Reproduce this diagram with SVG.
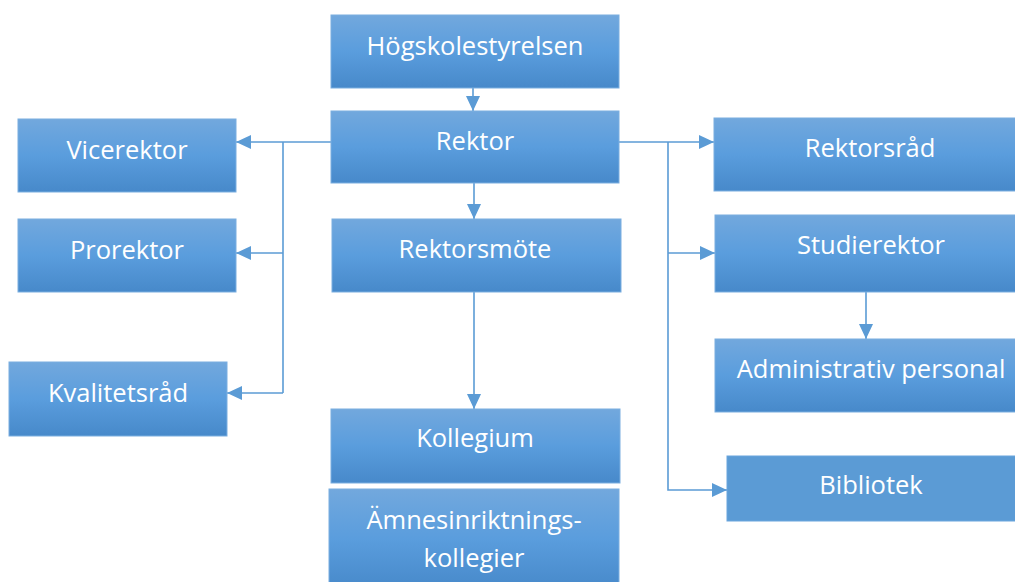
<svg xmlns="http://www.w3.org/2000/svg" width="1015" height="582" viewBox="0 0 1015 582">
<style>
.box{fill:url(#g);stroke:#7aaee0;stroke-width:1}
.flat{fill:#5b9bd5;stroke:#6aa5dd;stroke-width:1}
.t{font-family:"Open Sans","Liberation Sans",sans-serif;font-size:25.5px;fill:#ffffff;text-anchor:middle}
.c{fill:none;stroke:#5b9bd5;stroke-width:1.6}
</style>
<defs>
<linearGradient id="g" x1="0" y1="0" x2="0" y2="1">
<stop offset="0" stop-color="#72a8dd"/>
<stop offset="0.5" stop-color="#5a9ddd"/>
<stop offset="1" stop-color="#4789ca"/>
</linearGradient>
<marker id="a" viewBox="0 0 15 14" refX="15" refY="7" markerWidth="15" markerHeight="14" markerUnits="userSpaceOnUse" orient="auto">
<path d="M0,0 L15,7 L0,14 z" fill="#5b9bd5"/>
</marker>
</defs>
<g id="connectors">
<path class="c" d="M473,88 V111" marker-end="url(#a)"/>
<path class="c" d="M474,183 L474,219" marker-end="url(#a)"/>
<path class="c" d="M474,292 V409" marker-end="url(#a)"/>
<path class="c" d="M331,142 H236" marker-end="url(#a)"/>
<path class="c" d="M283,142 V393"/>
<path class="c" d="M283,253 H236" marker-end="url(#a)"/>
<path class="c" d="M283,393 H227" marker-end="url(#a)"/>
<path class="c" d="M619,142 H714" marker-end="url(#a)"/>
<path class="c" d="M668,142 V490 H727" marker-end="url(#a)"/>
<path class="c" d="M668,253 H715" marker-end="url(#a)"/>
<path class="c" d="M866,292 V339" marker-end="url(#a)"/>
</g>
<g id="hogskolestyrelsen"><rect class="box" x="331" y="15" width="288" height="73"/><text class="t" x="475" y="55">Högskolestyrelsen</text></g>
<g id="rektor"><rect class="box" x="331" y="111" width="288" height="72"/><text class="t" x="475" y="150">Rektor</text></g>
<g id="rektorsmote"><rect class="box" x="332" y="219" width="289" height="73"/><text class="t" x="475" y="258">Rektorsmöte</text></g>
<g id="kollegium"><rect class="box" x="331" y="409" width="289" height="74"/><text class="t" x="475" y="447">Kollegium</text></g>
<g id="amnesinriktningskollegier"><rect class="box" x="329" y="489" width="290" height="100"/><text class="t" x="474" y="529">Ämnesinriktnings-</text><text class="t" x="474" y="567">kollegier</text></g>
<g id="vicerektor"><rect class="box" x="18" y="119" width="218" height="73"/><text class="t" x="127" y="159">Vicerektor</text></g>
<g id="prorektor"><rect class="box" x="18" y="219" width="218" height="73"/><text class="t" x="127" y="259">Prorektor</text></g>
<g id="kvalitetsrad"><rect class="box" x="9" y="362" width="218" height="74"/><text class="t" x="118" y="402">Kvalitetsråd</text></g>
<g id="rektorsrad"><rect class="box" x="714" y="118" width="312" height="73"/><text class="t" x="870" y="157">Rektorsråd</text></g>
<g id="studierektor"><rect class="box" x="715" y="215" width="311" height="77"/><text class="t" x="871" y="254">Studierektor</text></g>
<g id="administrativ"><rect class="box" x="715" y="339" width="311" height="73"/><text class="t" x="871" y="378">Administrativ personal</text></g>
<g id="bibliotek"><rect class="flat" x="727" y="456" width="299" height="65"/><text class="t" x="871" y="494">Bibliotek</text></g>
</svg>
